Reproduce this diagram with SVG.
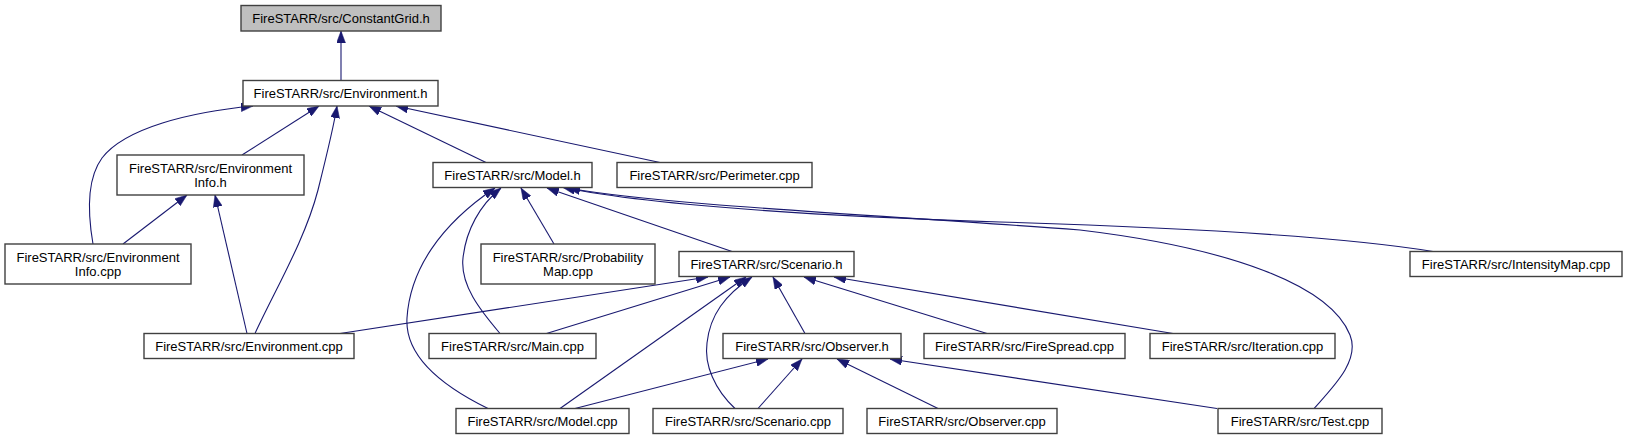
<svg xmlns="http://www.w3.org/2000/svg" width="1627" height="440" viewBox="0 0 1627 440">
<style>
.node rect{fill:#ffffff;stroke:#404040;stroke-width:1.4}
.root rect{fill:#bfbfbf}
.node text{font-family:"Liberation Sans",Arial,Helvetica,sans-serif;font-size:13px;fill:#000;text-anchor:middle}
.edges path{fill:none;stroke:#191970;stroke-width:1.1;marker-end:url(#arr)}
</style>
<defs>
<marker id="arr" markerUnits="userSpaceOnUse" viewBox="0 0 12 9" refX="12" refY="4.5" markerWidth="12" markerHeight="9" orient="auto">
<path d="M0,0 L12,4.5 L0,9 Z" fill="#191970" stroke="#191970" stroke-width="0.5"/>
</marker>
</defs>
<rect width="1627" height="440" fill="#ffffff"/>
<g id="connectors" class="edges">
<path d="M341,80.5 L341,31"/>
<path d="M242,155 L319,106"/>
<path d="M93,244 C88,215 86,180 102,158 C125,128 190,112 253,106"/>
<path d="M255,333.5 C275,290 305,240 318,190 C328,150 334,125 337,106"/>
<path d="M486,162.5 L369,106"/>
<path d="M660,162.5 L396,106"/>
<path d="M123,244 L187,195"/>
<path d="M247,333.5 L215,195"/>
<path d="M488,408.5 C430,380 405,350 407,318 C410,270 440,225 495,188"/>
<path d="M500,333.5 C480,310 460,285 463,258 C466,230 480,205 501,188"/>
<path d="M554,244 L521,188"/>
<path d="M732,251.5 L547,188"/>
<path d="M1433,251.5 C1350,238 1200,228 1000,222 C820,216 650,205 563,187.5"/>
<path d="M1314,408.5 C1335,385 1360,360 1350,335 C1330,285 1230,248 1080,230 C880,215 660,205 568,188"/>
<path d="M340,333.5 L708,277"/>
<path d="M546.5,333.5 L730,277"/>
<path d="M560,408.5 L746,277"/>
<path d="M735,408.5 C715,390 704,365 707,343 C710,315 725,295 752,277"/>
<path d="M805,333.5 L773,277"/>
<path d="M987,333.5 L804,277"/>
<path d="M1173,333.5 L834,277"/>
<path d="M575,408.5 L768,359"/>
<path d="M758,408.5 L802,359"/>
<path d="M938,408.5 L837,359"/>
<path d="M1217,408.5 L890,359"/>
</g>
<g id="node-constantgrid" class="node root"><rect x="241" y="5.5" width="200" height="25.5"/><text x="341" y="22.7">FireSTARR/src/ConstantGrid.h</text></g>
<g id="node-environment-h" class="node"><rect x="243" y="80.5" width="195" height="25.5"/><text x="340.5" y="97.7">FireSTARR/src/Environment.h</text></g>
<g id="node-environmentinfo-h" class="node"><rect x="117" y="155" width="187" height="40"/><text x="210.5" y="172.5">FireSTARR/src/Environment</text><text x="210.5" y="186.5">Info.h</text></g>
<g id="node-model-h" class="node"><rect x="433" y="162.5" width="159" height="25"/><text x="512.5" y="179.5">FireSTARR/src/Model.h</text></g>
<g id="node-perimeter" class="node"><rect x="617" y="162.5" width="195" height="25"/><text x="714.5" y="179.5">FireSTARR/src/Perimeter.cpp</text></g>
<g id="node-environmentinfo-cpp" class="node"><rect x="5" y="244" width="186" height="40"/><text x="98" y="261.5">FireSTARR/src/Environment</text><text x="98" y="275.5">Info.cpp</text></g>
<g id="node-probabilitymap" class="node"><rect x="481" y="244" width="174" height="40"/><text x="568" y="261.5">FireSTARR/src/Probability</text><text x="568" y="275.5">Map.cpp</text></g>
<g id="node-scenario-h" class="node"><rect x="679" y="251.5" width="175" height="25"/><text x="766.5" y="268.5">FireSTARR/src/Scenario.h</text></g>
<g id="node-intensitymap" class="node"><rect x="1410" y="251.5" width="212" height="25"/><text x="1516" y="268.5">FireSTARR/src/IntensityMap.cpp</text></g>
<g id="node-environment-cpp" class="node"><rect x="144" y="333.5" width="210" height="25"/><text x="249" y="350.5">FireSTARR/src/Environment.cpp</text></g>
<g id="node-main" class="node"><rect x="429" y="333.5" width="167" height="25"/><text x="512.5" y="350.5">FireSTARR/src/Main.cpp</text></g>
<g id="node-observer-h" class="node"><rect x="723" y="333.5" width="178" height="25"/><text x="812" y="350.5">FireSTARR/src/Observer.h</text></g>
<g id="node-firespread" class="node"><rect x="924" y="333.5" width="201" height="25"/><text x="1024.5" y="350.5">FireSTARR/src/FireSpread.cpp</text></g>
<g id="node-iteration" class="node"><rect x="1150" y="333.5" width="185" height="25"/><text x="1242.5" y="350.5">FireSTARR/src/Iteration.cpp</text></g>
<g id="node-model-cpp" class="node"><rect x="456" y="408.5" width="173" height="25"/><text x="542.5" y="425.5">FireSTARR/src/Model.cpp</text></g>
<g id="node-scenario-cpp" class="node"><rect x="653" y="408.5" width="190" height="25"/><text x="748" y="425.5">FireSTARR/src/Scenario.cpp</text></g>
<g id="node-observer-cpp" class="node"><rect x="867" y="408.5" width="190" height="25"/><text x="962" y="425.5">FireSTARR/src/Observer.cpp</text></g>
<g id="node-test" class="node"><rect x="1218" y="408.5" width="164" height="25"/><text x="1300" y="425.5">FireSTARR/src/Test.cpp</text></g>
</svg>
